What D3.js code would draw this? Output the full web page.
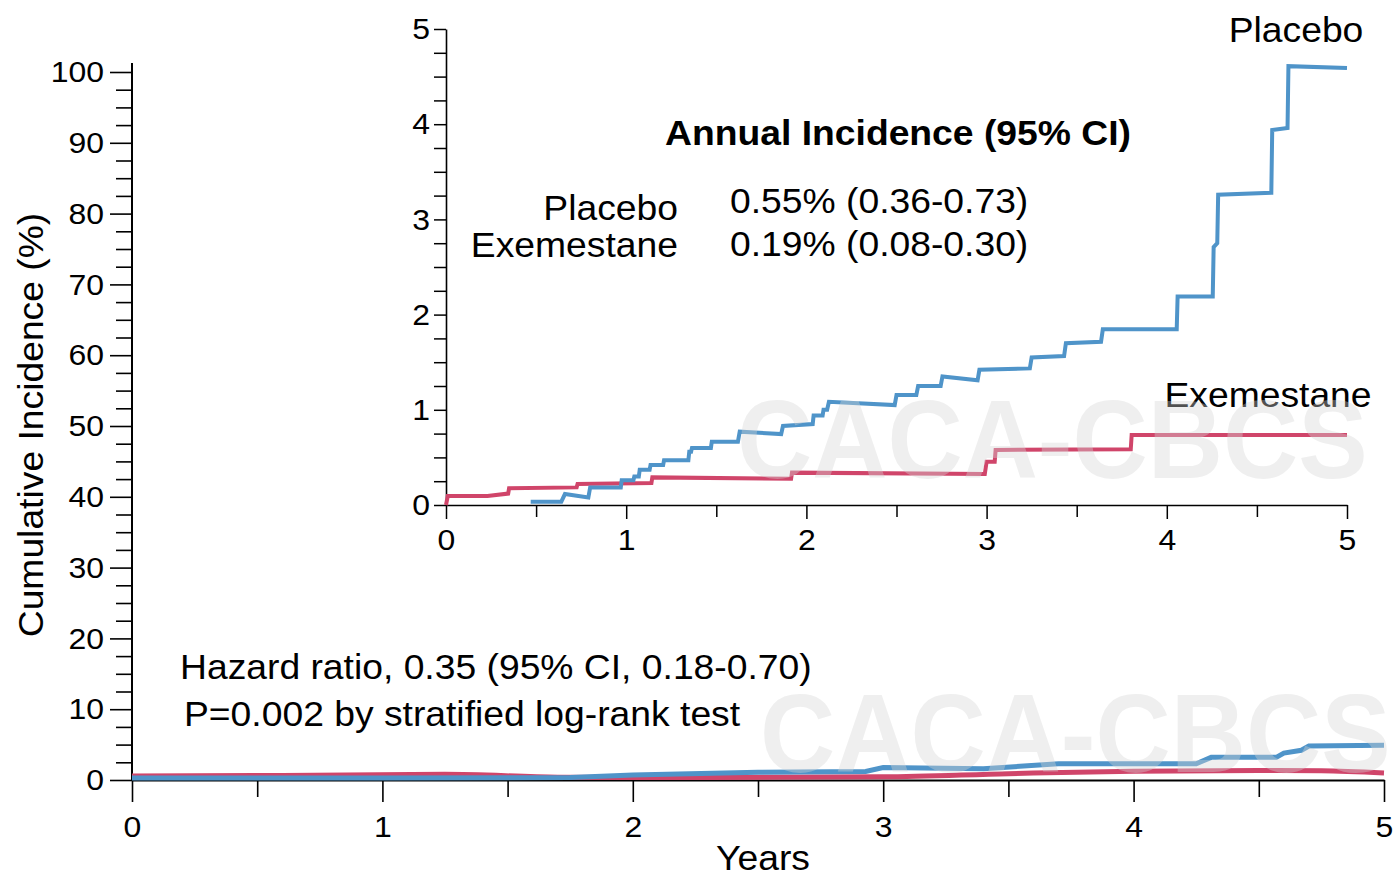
<!DOCTYPE html>
<html>
<head>
<meta charset="utf-8">
<script src="https://cdn.jsdelivr.net/npm/d3@7"></script>
<style>
  body { margin: 0; background: #fff; }
  svg text { font-family: "Liberation Sans", Arial, sans-serif; }
</style>
</head>
<body>
<div id="root"></div>
<script>
// main chart curves (years, cumulative incidence %)
let mainPlacebo = [[0, 0.3], [1.0, 0.3], [1.75, 0.35], [2.0, 0.7], [2.5, 1.1], [2.93, 1.2], [3.0, 1.75], [3.4, 1.6],
    [3.7, 2.3], [4.25, 2.3], [4.31, 3.2], [4.57, 3.2], [4.6, 3.8], [4.67, 4.2], [4.7, 4.8], [5.0, 4.9]];
let mainExemestane = [[0, 0.55], [0.6, 0.65], [1.25, 0.8], [1.7, 0.4], [2.0, 0.35], [3.0, 0.45], [3.5, 0.9],
    [4.0, 1.25], [4.5, 1.35], [4.75, 1.3], [5.0, 1.0]];

// inset curves (zoomed 0-5 %)
let insetPlacebo = [[0.47, 0.035], [0.64, 0.035], [0.66, 0.115], [0.79, 0.08], [0.80, 0.185], [0.97, 0.185],
    [0.975, 0.26], [1.04, 0.26], [1.045, 0.30], [1.07, 0.30], [1.075, 0.37], [1.13, 0.37], [1.135, 0.42],
    [1.205, 0.42], [1.21, 0.47], [1.345, 0.47], [1.35, 0.56], [1.36, 0.56], [1.365, 0.60], [1.47, 0.60],
    [1.475, 0.665], [1.62, 0.665], [1.63, 0.77], [1.86, 0.745], [1.87, 0.83], [2.035, 0.85], [2.04, 0.94],
    [2.09, 0.94], [2.095, 1.0], [2.115, 1.0], [2.125, 1.085], [2.49, 1.05], [2.5, 1.155], [2.61, 1.155],
    [2.62, 1.25], [2.745, 1.25], [2.755, 1.35], [2.95, 1.31], [2.96, 1.42], [3.24, 1.435], [3.25, 1.55],
    [3.43, 1.565], [3.44, 1.70], [3.635, 1.715], [3.645, 1.845], [4.055, 1.845], [4.06, 2.19], [4.255, 2.19],
    [4.26, 2.71], [4.28, 2.75], [4.285, 3.26], [4.58, 3.28], [4.585, 3.94], [4.67, 3.96], [4.675, 4.61], [5.0, 4.59]];
let insetExemestane = [[0, 0], [0.01, 0.095], [0.23, 0.095], [0.345, 0.12], [0.35, 0.175], [0.725, 0.185],
    [0.73, 0.22], [1.14, 0.23], [1.145, 0.29], [1.915, 0.275], [1.92, 0.34], [2.99, 0.325], [3.0, 0.455],
    [3.045, 0.455], [3.05, 0.578], [3.8, 0.585], [3.805, 0.735], [5.0, 0.735]];

let xTicks = [0, 1, 2, 3, 4, 5],
    xMinor = [0.5, 1.5, 2.5, 3.5, 4.5],
    mainYTicks = [0, 10, 20, 30, 40, 50, 60, 70, 80, 90, 100],
    insetYTicks = [0, 1, 2, 3, 4, 5];

let incidenceRows = ['Placebo', 'Exemestane'],
    incidenceValues = ['0.55% (0.36-0.73)', '0.19% (0.08-0.30)'];

let blueColor = '#4f94c9',
    redColor = '#d0456a',
    width = 1395,
    height = 875,
    sx = 1.065; // the glyphs in the figure are a little wider than Liberation's

let svg = d3.select('#root').append('svg')
    .attr('width', width)
    .attr('height', height);

function addText(parent, px, py, str, size, anchor, rot) {
    return parent.append('text')
        .attr('transform', 'translate(' + px + ',' + py + ')' + (rot ? ' rotate(' + rot + ')' : '') + ' scale(' + sx + ',1)')
        .attr('text-anchor', anchor || 'start')
        .style('font-size', size + 'px')
        .text(str);
}

// widen axis labels the same way, keeping their anchor point
function stretchTicks(sel) {
    sel.selectAll('text').each(function () {
        let t = d3.select(this);
        t.attr('x', (+t.attr('x') || 0) / sx).attr('transform', 'scale(' + sx + ',1)');
    });
}

// ---------- main chart ----------
let x = d3.scaleLinear().domain([0, 5]).range([132, 1384]),
    y = d3.scaleLinear().domain([0, 100]).range([780, 72]);

let minorY = d3.range(0, 100.1, 2.5).filter(v => v % 10 !== 0);

svg.append('g')
    .attr('transform', 'translate(' + x(0) + ',0)')
    .call(d3.axisLeft(y).tickValues(minorY).tickSize(16).tickFormat(''))
    .call(g => g.select('.domain').remove());

svg.append('g')
    .attr('class', 'mainY')
    .attr('transform', 'translate(' + x(0) + ',0)')
    .call(d3.axisLeft(y).tickValues(mainYTicks).tickSize(22).tickPadding(6).tickFormat(d3.format('d')))
    .call(g => g.select('.domain').remove())
    .call(stretchTicks)
    .selectAll('text').style('font-size', '30px');

svg.append('line')
    .attr('x1', x(0)).attr('x2', x(0))
    .attr('y1', 63).attr('y2', y(0))
    .attr('stroke', '#000').attr('stroke-width', 2);

svg.append('g')
    .attr('transform', 'translate(0,' + y(0) + ')')
    .call(d3.axisBottom(x).tickValues(xMinor).tickSize(17).tickFormat(''))
    .call(g => g.select('.domain').remove());

svg.append('g')
    .attr('transform', 'translate(0,' + y(0) + ')')
    .call(d3.axisBottom(x).tickValues(xTicks).tickSize(22).tickPadding(14).tickSizeOuter(0).tickFormat(d3.format('d')))
    .call(g => g.select('.domain').attr('stroke-width', 2))
    .call(stretchTicks)
    .selectAll('text').style('font-size', '30px');

svg.selectAll('.tick line').attr('stroke-width', 1.6);

let mainLine = d3.line()
    .x(d => x(d[0]))
    .y(d => y(d[1]));

svg.append('path')
    .datum(mainExemestane)
    .attr('d', mainLine.curve(d3.curveMonotoneX))
    .attr('fill', 'none')
    .attr('stroke', redColor)
    .attr('stroke-width', 5);

svg.append('path')
    .datum(mainPlacebo)
    .attr('d', mainLine.curve(d3.curveLinear))
    .attr('fill', 'none')
    .attr('stroke', blueColor)
    .attr('stroke-width', 5);

addText(svg, 43, 425, 'Cumulative Incidence (%)', 35, 'middle', -90);
addText(svg, 763, 870, 'Years', 35, 'middle');
addText(svg, 180, 679, 'Hazard ratio, 0.35 (95% CI, 0.18-0.70)', 35);
addText(svg, 184, 726, 'P=0.002 by stratified log-rank test', 35);

// ---------- inset ----------
let ix = d3.scaleLinear().domain([0, 5]).range([446, 1347]),
    iy = d3.scaleLinear().domain([0, 5]).range([505, 29]);

let inset = svg.append('g').attr('class', 'inset');

inset.append('g')
    .attr('transform', 'translate(' + ix(0) + ',0)')
    .call(d3.axisLeft(iy).tickValues(d3.range(0, 5.01, 0.25)).tickSize(12).tickPadding(4).tickSizeOuter(0)
        .tickFormat(d => insetYTicks.includes(d) ? d : ''))
    .call(g => g.select('.domain').attr('stroke-width', 1.6))
    .call(stretchTicks)
    .selectAll('text').style('font-size', '30px');

inset.append('g')
    .attr('transform', 'translate(0,' + iy(0) + ')')
    .call(d3.axisBottom(ix).tickValues(xMinor).tickSize(12).tickFormat(''))
    .call(g => g.select('.domain').remove());

inset.append('g')
    .attr('transform', 'translate(0,' + iy(0) + ')')
    .call(d3.axisBottom(ix).tickValues(xTicks).tickSize(14).tickPadding(10).tickSizeOuter(0).tickFormat(d3.format('d')))
    .call(g => g.select('.domain').attr('stroke-width', 1.6))
    .call(stretchTicks)
    .selectAll('text').style('font-size', '30px');

inset.selectAll('.tick line').attr('stroke-width', 1.5);

let insetLine = d3.line()
    .x(d => ix(d[0]))
    .y(d => iy(d[1]));

inset.append('path')
    .datum(insetExemestane)
    .attr('d', insetLine)
    .attr('fill', 'none')
    .attr('stroke', redColor)
    .attr('stroke-width', 4);

inset.append('path')
    .datum(insetPlacebo)
    .attr('d', insetLine)
    .attr('fill', 'none')
    .attr('stroke', blueColor)
    .attr('stroke-width', 4);

addText(inset, 898, 145, 'Annual Incidence (95% CI)', 35, 'middle').style('font-weight', 'bold');

incidenceRows.forEach((name, i) => {
    addText(inset, 678, 220 + i * 37, name, 35, 'end');
    addText(inset, 730, 213 + i * 43, incidenceValues[i], 35);
});

addText(inset, 1296, 42, 'Placebo', 35, 'middle');
addText(inset, 1268, 407, 'Exemestane', 35, 'middle');

// watermarks
[[737, 478], [760, 772]].forEach(p => {
    svg.append('text')
        .attr('transform', 'translate(' + p[0] + ',' + p[1] + ') scale(0.93,1)')
        .style('font-size', '112px')
        .style('font-weight', 'bold')
        .attr('fill', '#d6d6d6')
        .attr('opacity', 0.38)
        .text('CACA-CBCS');
});
</script>
</body>
</html>
